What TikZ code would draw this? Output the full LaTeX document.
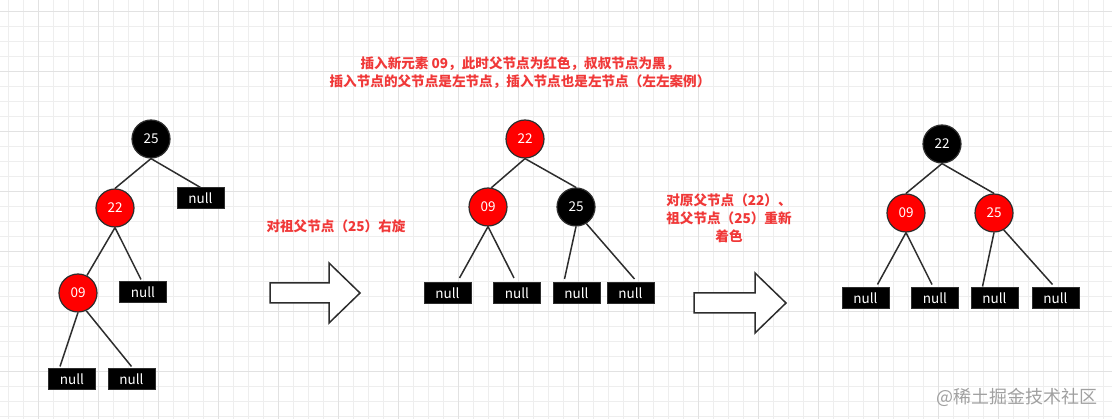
\documentclass[tikz,border=0pt]{standalone}
\usepackage{fontspec}
\setmainfont{Noto Sans CJK SC}
\usetikzlibrary{calc}
\definecolor{gridminor}{RGB}{238,238,238}
\definecolor{gridmajor}{RGB}{226,226,226}
\definecolor{edgecol}{RGB}{45,45,45}
\definecolor{notered}{RGB}{240,56,56}
\definecolor{nodered}{RGB}{255,0,0}
\definecolor{wmgray}{RGB}{160,160,160}
\begin{document}
\begin{tikzpicture}[x=1pt,y=-1pt,
  rbnode/.style={circle,minimum size=38pt,inner sep=0pt,draw=edgecol,line width=1.2pt,fill=black,text=white,font=\fontsize{13.5}{15}\selectfont},
  rrnode/.style={rbnode,fill=nodered},
  nullbox/.style={rectangle,minimum width=47pt,minimum height=21pt,inner sep=0pt,fill=black,draw=edgecol,line width=1pt,text=white,font=\fontsize{13.5}{15}\selectfont},
  edge/.style={draw=edgecol,line width=1.5pt},
  note/.style={text=notered,align=center,font=\bfseries\fontsize{13.6}{18}\selectfont},
  bigarrow/.style={draw=edgecol,line width=1.5pt,fill=white,line join=miter}]
\useasboundingbox (0,0) rectangle (1112,419);
% grid
\begin{scope}
\clip (0,0) rectangle (1112,419);
\foreach \i in {0,...,74} {\draw[gridminor,line width=0.8pt] ({8.3+15*\i},0) -- ({8.3+15*\i},419);}
\foreach \i in {0,...,28} {\draw[gridminor,line width=0.8pt] (0,{11.7+15*\i}) -- (1112,{11.7+15*\i});}
\foreach \i in {0,...,18} {\draw[gridmajor,line width=1pt] ({38.3+60*\i},0) -- ({38.3+60*\i},419);}
\foreach \i in {0,...,6} {\draw[gridmajor,line width=1pt] (0,{11.7+60*\i}) -- (1112,{11.7+60*\i});}
\end{scope}

% Tree 1
\node[rbnode] (a25) at (151,139) {25};
\node[rrnode] (a22) at (115,208) {22};
\node[rrnode] (a09) at (78,293) {09};
\node[nullbox] (an1) at (200.5,198.5) {null};
\node[nullbox] (an2) at (143,292.5) {null};
\node[nullbox] (an3) at (72,379.5) {null};
\node[nullbox] (an4) at (131.5,379.5) {null};
\draw[edge] (a25.south) -- (a22.north);
\draw[edge] (a25.south) -- (an1.north);
\draw[edge] (a22.south) -- (a09.63);
\draw[edge] (a22.south) -- ($(an2.north)+(-2,-2)$);
\draw[edge] (a09.south) -- ($(an3.north)+(-12,-2)$);
\draw[edge] (a09.-65) -- ($(an4.north)+(0,-2)$);

% Tree 2
\node[rrnode] (b22) at (525,139) {22};
\node[rrnode] (b09) at (488,207) {09};
\node[rbnode] (b25) at (576,207) {25};
\node[nullbox] (bn1) at (447.5,293) {null};
\node[nullbox] (bn2) at (517,293) {null};
\node[nullbox] (bn3) at (576.5,293) {null};
\node[nullbox] (bn4) at (630.5,293) {null};
\draw[edge] (b22.south) -- (b09.80);
\draw[edge] (b22.south) -- (b25.north);
\draw[edge] (b09.south) -- ($(bn1.north)+(12,-4)$);
\draw[edge] (b09.south) -- ($(bn2.north)+(-3,-4)$);
\draw[edge] (b25.south) -- ($(bn3.north)+(-12,-3)$);
\draw[edge] (b25.-58) -- ($(bn4.north)+(4,-3)$);

% Tree 3
\node[rbnode] (c22) at (942,144) {22};
\node[rrnode] (c09) at (906,213) {09};
\node[rrnode] (c25) at (994,213) {25};
\node[nullbox] (cn1) at (865.5,298.5) {null};
\node[nullbox] (cn2) at (935,298.5) {null};
\node[nullbox] (cn3) at (994.5,298.5) {null};
\node[nullbox] (cn4) at (1055.5,298.5) {null};
\draw[edge] (c22.south) -- (c09.north);
\draw[edge] (c22.south) -- (c25.north);
\draw[edge] (c09.south) -- ($(cn1.north)+(12,-3)$);
\draw[edge] (c09.south) -- ($(cn2.north)+(-3,-3)$);
\draw[edge] (c25.south) -- ($(cn3.north)+(-12,-1)$);
\draw[edge] (c25.-60) -- ($(cn4.north)+(-3,-3)$);

% Arrows
\draw[bigarrow] (270,283) -- (329,283) -- (329,263) -- (360,293) -- (329,323) -- (329,303) -- (270,303) -- cycle;
\draw[bigarrow] (694,293) -- (755,293) -- (755,273) -- (786,303) -- (755,333) -- (755,313) -- (694,313) -- cycle;

% Notes
\node[note] (title) at (520,73) {插入新元素 09，此时父节点为红色，叔叔节点为黑，\\插入节点的父节点是左节点，插入节点也是左节点（左左案例）};
\node[note] (rot) at (336,226) {对祖父节点（25）右旋};
\node[note] (recolor) at (729,218.5) {对原父节点（22）、\\祖父节点（25）重新\\着色};
\node[text=wmgray,font=\fontsize{18}{20}\selectfont] (wm) at (1017,397) {@稀土掘金技术社区};
\end{tikzpicture}
\end{document}
